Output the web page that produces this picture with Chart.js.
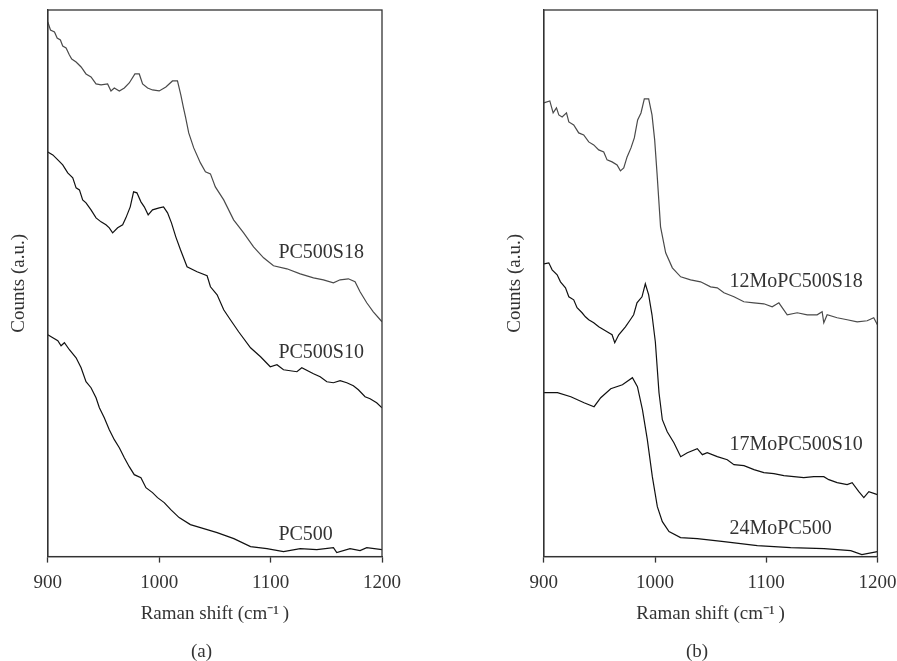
<!DOCTYPE html>
<html>
<head>
<meta charset="utf-8">
<script src="https://cdn.jsdelivr.net/npm/chart.js@4.4.0/dist/chart.umd.min.js"></script>
<style>
  body { margin: 0; background: #fff; width: 897px; height: 661px; position: relative; overflow: hidden; }
  .panel { position: absolute; top: 0; height: 661px; }
  #panelA { left: 0; width: 420px; }
  #panelB { left: 496px; width: 409px; }
  .caption { position: absolute; top: 640px; font: 19px 'Liberation Serif', serif; color: #333; }
</style>
</head>
<body>
<div class="panel" id="panelA"><canvas id="chartA"></canvas></div>
<div class="panel" id="panelB"><canvas id="chartB"></canvas></div>
<div class="caption" style="left:191px">(a)</div>
<div class="caption" style="left:686px">(b)</div>
<script>
// Data (counts are arbitrary units)
const xTicks = [900, 1000, 1100, 1200];

// Panel (a)
const pc500S18Shift = [900, 902.4, 906, 908.4, 911.3, 913.4, 916.4, 919.4, 921.5, 925.4, 929.9, 934.3, 938.8, 943.3, 947.8, 953.7, 956.7, 959.7, 964.2, 968.7, 973.1, 978.2, 982.1, 985.1, 989.6, 994, 1000, 1006, 1011.9, 1016.4, 1019.4, 1021.8, 1023.6, 1026.5, 1031, 1037, 1041.5, 1046, 1050.4, 1057.9, 1066.8, 1075.8, 1084.7, 1093.7, 1102.6, 1114.6, 1126.6, 1138.5, 1147.4, 1156.4, 1162.4, 1169.8, 1175.8, 1180.3, 1186.3, 1192.2, 1200];
const pc500S18Counts = [535, 527, 525, 519, 517, 511, 509, 502, 498, 495, 490, 483, 480, 473, 472, 473, 466, 469, 466, 469, 474, 483, 483, 473, 469, 467, 466, 470, 476, 476, 462, 449, 440, 424, 409, 394, 385, 383, 370, 357, 337, 324, 310, 299, 291, 288, 283, 279, 277, 274, 277, 278, 275, 265, 254, 245, 235];

const pc500S10Shift = [900, 904.5, 909, 913.4, 917.9, 922.4, 925.4, 928.4, 931.3, 934.3, 938.8, 943.3, 947.8, 952.2, 955.2, 958.2, 962.7, 967.2, 970.1, 974, 977, 980, 983.6, 986.6, 990.1, 994, 1000, 1003.9, 1007.5, 1011, 1014.9, 1019.1, 1025, 1034, 1043, 1046, 1052, 1057.9, 1063.9, 1071.3, 1082, 1091, 1099.7, 1105.7, 1111.6, 1123.6, 1128, 1138.5, 1144.5, 1150.5, 1156.4, 1162.4, 1168.4, 1174.3, 1178.8, 1184.8, 1189.3, 1195.2, 1200];
const pc500S10Counts = [405, 402, 397, 392, 384, 379, 369, 367, 357, 354, 347, 339, 335, 332, 329, 324, 329, 332, 339, 350, 365, 364, 355, 350, 342, 347, 349, 350, 344, 334, 320, 307, 290, 285, 281, 270, 262, 247, 237, 225, 209, 200, 190, 192, 187, 185, 189, 183, 180, 175, 174, 176, 174, 171, 167, 160, 158, 154, 149];

const pc500Shift = [900, 904.5, 909, 911.9, 914.9, 919.4, 925.4, 929.9, 934.3, 938.8, 943.3, 946.3, 950.7, 955.2, 959.7, 964.2, 968.7, 973.1, 977.6, 983.6, 988.1, 994, 998.5, 1004.5, 1010.4, 1017.9, 1028, 1037, 1052, 1067, 1082, 1096.7, 1111.6, 1126.6, 1141.5, 1156.4, 1159.4, 1171.3, 1180.3, 1186.3, 1200];
const pc500Counts = [222, 219, 216, 211, 214, 207, 199, 189, 175, 169, 159, 149, 139, 127, 117, 109, 99, 90, 82, 79, 69, 64, 59, 54, 47, 39, 32, 29, 24, 18, 10, 8, 5, 8, 7, 9, 4, 8, 6, 9, 7];

// Panel (b)
const mo12Shift = [900, 905.4, 908.4, 911.4, 913.5, 916.5, 920.4, 922.5, 926.9, 931.4, 935.9, 940.4, 944.9, 949.4, 953.9, 956.9, 961.4, 965.9, 968.9, 971.9, 974.9, 978.4, 981.4, 984.4, 987.4, 990.4, 994.3, 997.3, 999.7, 1001.8, 1005, 1009.6, 1015.6, 1023.1, 1032, 1041, 1050, 1056, 1062, 1071, 1079.9, 1088.9, 1097.9, 1105.4, 1111.4, 1118.9, 1127.9, 1136.9, 1145.8, 1150.3, 1151.8, 1154.8, 1163.8, 1172.8, 1181.8, 1190.8, 1196.7, 1200];
const mo12Counts = [454, 456, 444, 449, 442, 440, 444, 435, 432, 424, 422, 415, 412, 407, 405, 397, 395, 392, 386, 389, 400, 409, 419, 437, 444, 458, 458, 442, 417, 384, 330, 304, 289, 280, 277, 275, 270, 269, 264, 260, 255, 254, 253, 250, 254, 242, 244, 242, 242, 245, 234, 242, 239, 237, 235, 236, 239, 232];

const mo17Shift = [900, 904.5, 907.5, 912, 915, 919.5, 922.5, 926.9, 929.9, 934.4, 937.4, 940.4, 944.9, 949.4, 953.9, 958.4, 961.4, 963.8, 967.4, 973.4, 977.8, 980.8, 983.8, 988.3, 991.3, 994.3, 997.3, 1000.3, 1003.6, 1006.6, 1011, 1017, 1023.1, 1029.1, 1038, 1042.6, 1047, 1056, 1065, 1071, 1080, 1089, 1097.9, 1106.9, 1115.9, 1124.9, 1133.8, 1142.8, 1151.8, 1156.3, 1163.8, 1172.8, 1177.3, 1183.3, 1187.8, 1192.3, 1200];
const mo17Counts = [293, 294, 287, 282, 275, 269, 260, 257, 249, 244, 240, 237, 234, 230, 227, 224, 222, 214, 222, 230, 237, 242, 254, 260, 273, 262, 242, 215, 164, 137, 125, 114, 100, 104, 108, 102, 104, 100, 97, 92, 91, 87, 84, 83, 81, 80, 79, 80, 80, 77, 74, 72, 74, 65, 59, 65, 62];

const mo24Shift = [900, 912.3, 924.3, 936.2, 945.2, 951.2, 960.2, 970.7, 979.7, 984.2, 988.7, 993.1, 997.6, 1002.1, 1006.6, 1012.6, 1023, 1038, 1062, 1092, 1122, 1152, 1176, 1186, 1200];
const mo24Counts = [164, 164, 160, 154, 150, 159, 168, 172, 179, 170, 147, 117, 80, 50, 35, 25, 19, 18, 15, 11, 9, 8, 6, 2, 5];

// Curve labels, placed in data units (left edge, vertical middle)
const namesA = ['PC500S18', 'PC500S10', 'PC500'];
const nameShiftA = [1107, 1107, 1107];
const nameCountA = [304, 204, 22];
const namesB = ['12MoPC500S18', '17MoPC500S10', '24MoPC500'];
const nameShiftB = [1067, 1067, 1067];
const nameCountB = [275, 112, 28];

Chart.defaults.font.family = "'Liberation Serif', 'Times New Roman', serif";
Chart.defaults.font.size = 19;
Chart.defaults.color = '#333';

function toPoints(xs, ys) {
    return xs.map((x, i) => ({ x: x, y: ys[i] }));
}

// Box around the plot area
const frame = {
    id: 'frame',
    afterDraw(chart) {
        const { ctx, chartArea: a } = chart;
        ctx.save();
        ctx.strokeStyle = '#333';
        ctx.lineWidth = 1.3;
        ctx.strokeRect(a.left, a.top, a.right - a.left, a.bottom - a.top);
        ctx.restore();
    }
};

// Series names next to the curves
const curveNames = {
    id: 'curveNames',
    afterDatasetsDraw(chart, args, opts) {
        const { ctx, scales } = chart;
        ctx.save();
        ctx.font = "20px 'Liberation Serif', serif";
        ctx.fillStyle = '#333';
        ctx.textAlign = 'left';
        ctx.textBaseline = 'middle';
        opts.names.forEach((n, i) => {
            ctx.fillText(n, scales.x.getPixelForValue(opts.xs[i]), scales.y.getPixelForValue(opts.ys[i]));
        });
        ctx.restore();
    }
};

function makeChart(id, series, names, xs, ys, rightPad) {
    const colors = ['#4a4a4a', '#111', '#111'];
    new Chart(document.getElementById(id), {
        type: 'line',
        data: {
            datasets: series.map((s, i) => ({
                data: s,
                borderColor: colors[i],
                borderWidth: 1.2,
                pointRadius: 0,
                tension: 0,
                fill: false
            }))
        },
        options: {
            responsive: true,
            maintainAspectRatio: false,
            animation: false,
            layout: { padding: { left: 4, top: 10, right: rightPad, bottom: 35.6 } },
            plugins: {
                legend: { display: false },
                tooltip: { enabled: false },
                curveNames: { names: names, xs: xs, ys: ys }
            },
            scales: {
                x: {
                    type: 'linear',
                    min: 900,
                    max: 1200,
                    afterBuildTicks: (axis) => { axis.ticks = xTicks.map(v => ({ value: v })); },
                    ticks: { padding: 8.6, maxRotation: 0, callback: (v) => String(v) },
                    grid: { drawOnChartArea: false, drawTicks: true, tickLength: 6, color: '#333', tickWidth: 1.3 },
                    border: { color: '#333', width: 1.3 },
                    title: { display: true, text: 'Raman shift (cm\u207B\u00B9\u2009)', padding: { top: 0, bottom: 0 } }
                },
                y: {
                    min: 0,
                    max: 547,
                    ticks: { display: false },
                    grid: { display: false, drawTicks: false },
                    border: { color: '#333', width: 1.3 },
                    title: { display: true, text: 'Counts (a.u.)', padding: { top: 4, bottom: 17 } }
                }
            }
        },
        plugins: [frame, curveNames]
    });
}

makeChart('chartA',
    [toPoints(pc500S18Shift, pc500S18Counts), toPoints(pc500S10Shift, pc500S10Counts), toPoints(pc500Shift, pc500Counts)],
    namesA, nameShiftA, nameCountA, 38);

makeChart('chartB',
    [toPoints(mo12Shift, mo12Counts), toPoints(mo17Shift, mo17Counts), toPoints(mo24Shift, mo24Counts)],
    namesB, nameShiftB, nameCountB, 0);
</script>
</body>
</html>
